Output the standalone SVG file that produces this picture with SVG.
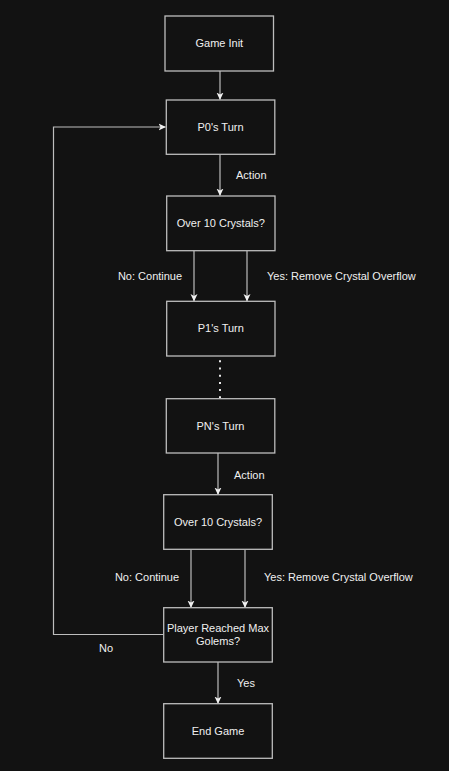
<svg xmlns="http://www.w3.org/2000/svg" width="449" height="771" viewBox="0 0 449 771">
<defs>
<style>
.box{fill:#121212;stroke:#bdbdbd;stroke-width:1.3}
.t{font-family:"Liberation Sans",Arial,sans-serif;font-size:11px;fill:#f0f0f0;text-anchor:middle}
.ts{font-family:"Liberation Sans",Arial,sans-serif;font-size:11px;fill:#f0f0f0}
.e{fill:none;stroke:#bdbdbd;stroke-width:1.2}
</style>
<marker id="arr" viewBox="0 0 8 8" refX="7" refY="4" markerWidth="8" markerHeight="8" markerUnits="userSpaceOnUse" orient="auto">
<path d="M0,0.5 L7.5,4 L0,7.5 L2,4 z" fill="#f0f0f0"/>
</marker>
</defs>
<rect width="449" height="771" fill="#121212"/>
<g id="connectors">
<path class="e" d="M220,71 V99.5" marker-end="url(#arr)"/>
<path class="e" d="M220,154 V195.5" marker-end="url(#arr)"/>
<text class="ts" x="236" y="179">Action</text>
<path class="e" d="M194,251 V301" marker-end="url(#arr)"/>
<path class="e" d="M247,251 V301" marker-end="url(#arr)"/>
<text class="t" x="150" y="280">No: Continue</text>
<text class="ts" x="267" y="280">Yes: Remove Crystal Overflow</text>
<path d="M220,360.3 V399" fill="none" stroke="#e8e8e8" stroke-width="2" stroke-dasharray="2 5.2"/>
<path class="e" d="M218,453 V494.5" marker-end="url(#arr)"/>
<text class="ts" x="234" y="479">Action</text>
<path class="e" d="M191,550 V607.5" marker-end="url(#arr)"/>
<path class="e" d="M245,550 V607.5" marker-end="url(#arr)"/>
<text class="t" x="147" y="581">No: Continue</text>
<text class="ts" x="264" y="581">Yes: Remove Crystal Overflow</text>
<path class="e" d="M164,634.5 H53.5 V127 H165.5" marker-end="url(#arr)"/>
<text class="t" x="106" y="652">No</text>
<path class="e" d="M218,662 V703.5" marker-end="url(#arr)"/>
<text class="ts" x="237" y="687">Yes</text>
</g>
<g id="game-init">
<rect class="box" x="165" y="16" width="108.5" height="55"/>
<text class="t" x="219.3" y="47">Game Init</text>
</g>
<g id="p0-turn">
<rect class="box" x="166.3" y="100" width="108.5" height="54.3"/>
<text class="t" x="220.5" y="131">P0's Turn</text>
</g>
<g id="over10-a">
<rect class="box" x="166.7" y="196" width="108.3" height="54.7"/>
<text class="t" x="220.8" y="227">Over 10 Crystals?</text>
</g>
<g id="p1-turn">
<rect class="box" x="166.7" y="301.3" width="108.3" height="54.7"/>
<text class="t" x="220.8" y="332">P1's Turn</text>
</g>
<g id="pn-turn">
<rect class="box" x="166.3" y="398.7" width="108.5" height="54.3"/>
<text class="t" x="220.5" y="430">PN's Turn</text>
</g>
<g id="over10-b">
<rect class="box" x="163.7" y="494.7" width="108.6" height="54.6"/>
<text class="t" x="218" y="526">Over 10 Crystals?</text>
</g>
<g id="max-golems">
<rect class="box" x="163.7" y="607.7" width="108.6" height="54.3"/>
<text class="t" x="218" y="632">Player Reached Max</text>
<text class="t" x="218" y="645">Golems?</text>
</g>
<g id="end-game">
<rect class="box" x="163.7" y="703.7" width="108.6" height="54.6"/>
<text class="t" x="218" y="735">End Game</text>
</g>
</svg>
